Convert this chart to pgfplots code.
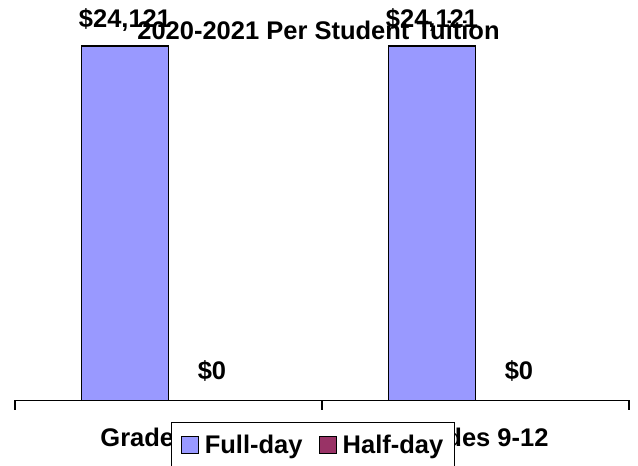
\documentclass[border=0pt]{standalone}
\usepackage{pgfplots}
\pgfplotsset{compat=1.18}
\usepackage{fontspec}
\setmainfont{Liberation Sans}
\definecolor{fullday}{HTML}{9999FF}
\definecolor{halfday}{HTML}{993366}
\newcommand{\bigfont}{\fontsize{25.5}{30}\selectfont\bfseries}
\begin{document}
\begin{tikzpicture}[x=1pt,y=1pt]
\useasboundingbox (0,0) rectangle (638,466);
\begin{axis}[
  at={(15pt,65.5pt)}, anchor=south west,
  scale only axis, width=614pt, height=354.5pt,
  ymin=0, ymax=24121, xmin=-0.5, xmax=1.5,
  clip=false,
  axis y line=none,
  axis x line*=bottom,
  axis line style={line width=1.6pt, black},
  ybar=0pt, bar width=87pt,
  xtick={-0.5,0.5,1.5}, xticklabels={},
  major tick length=9pt, tick align=outside,
  tick style={line width=1.6pt, black},
  extra x ticks={0,1},
  extra x tick labels={Grades K-8,Grades 9-12},
  extra x tick style={major tick length=0pt, xticklabel style={anchor=base, yshift=-46.5pt}},
  font=\bigfont,
  ticklabel style={font=\bigfont},
  /pgf/number format/1000 sep={,},
  /pgf/number format/assume math mode=true,
  nodes near coords={\$\pgfmathprintnumber{\pgfplotspointmeta}},
  every node near coord/.append style={font=\bigfont, anchor=base, black},
  title={2020-2021 Per Student Tuition},
  title style={font=\bigfont, at={(axis description cs:0.5,1)}, anchor=base, yshift=0pt, xshift=-3.5pt},
  legend columns=2,
  legend style={at={(axis description cs:0.254,-0.0607)}, anchor=north west, draw=black, line width=1.2pt, font=\bigfont,
    inner xsep=9pt, inner ysep=10pt,
    nodes={inner sep=2pt, text depth=0.15em},
    /tikz/every odd column/.append style={column sep=4pt},
    /tikz/every even column/.append style={column sep=14pt}},
  legend image code/.code={\draw[#1, draw=black, line width=1.2pt] (0pt,-8.5pt) rectangle (17pt,8.5pt);},
]
\addplot[fill=fullday, draw=black, line width=1.2pt,
  every node near coord/.append style={yshift=18pt}] coordinates {(0,24121) (1,24121)};
\addplot[fill=halfday, draw=black, line width=1.2pt,
  every node near coord/.append style={yshift=21pt}] coordinates {(0,0) (1,0)};
\legend{Full-day,Half-day}
\end{axis}
\end{tikzpicture}
\end{document}
